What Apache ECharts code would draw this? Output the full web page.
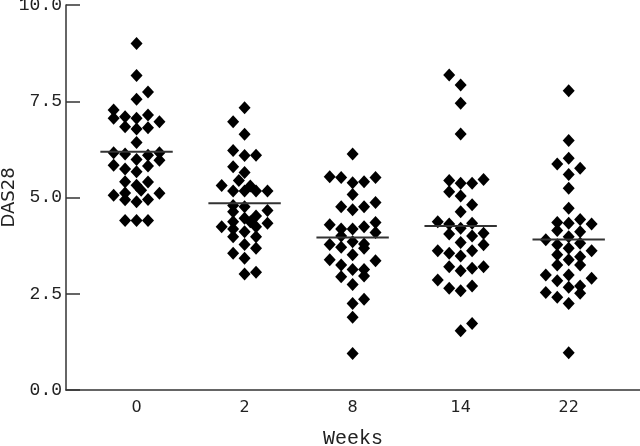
<!DOCTYPE html>
<html>
<head>
<meta charset="utf-8">
<script src="https://cdn.jsdelivr.net/npm/echarts@6/dist/echarts.min.js"></script>
<style>html,body{margin:0;padding:0;background:#fff;}#c{width:640px;height:446px;}</style>
</head>
<body>
<div id="c"></div>
<script>
const weeks = ['0', '2', '8', '14', '22'];
const yTicks = [0, 2.5, 5, 7.5, 10];
// DAS28 values per week, and jitter column (beeswarm column index) of each point
const das0 = [9.00,8.17,7.74,7.55,7.27,7.06,7.10,7.06,7.14,6.97,6.84,6.78,6.81,6.43,6.16,6.13,6.10,6.16,5.99,5.97,5.84,5.82,5.74,5.67,5.41,5.40,5.32,5.19,5.12,5.06,5.11,4.94,4.89,4.95,4.40,4.40,4.40];
const col0 = [0,0,1,0,-2,-2,-1,0,1,2,-1,0,1,0,-2,-1,1,2,0,2,-2,1,-1,0,-1,1,0,0.4,-1,-2,2,-1,0,1,-1,0,1];
const das2 = [7.33,6.97,6.64,6.22,6.09,6.10,5.80,5.65,5.44,5.31,5.17,5.17,5.30,5.17,5.17,4.79,4.76,4.63,4.66,4.46,4.52,4.37,4.24,4.37,4.33,4.18,4.11,4.24,3.98,3.98,3.78,3.68,3.55,3.42,3.01,3.06];
const col2 = [0,-1,0,-1,0,1,-1,0,-0.5,-2,-1,0,0.5,1,2,-1,0,-1,2,0,1,-1,-2,0.5,2,-1,0,1,-1,1,0,1,-1,0,0,1];
const das8 = [6.13,5.54,5.52,5.38,5.41,5.52,5.08,4.76,4.68,4.76,4.87,4.29,4.18,4.18,4.24,4.35,4.09,4.00,3.78,3.71,3.85,3.79,3.68,3.51,3.38,3.25,3.36,3.13,3.13,2.94,2.96,2.74,2.25,2.36,1.89,0.95];
const col8 = [0,-2,-1,0,1,2,0,-1,0,1,2,-2,-1,0,1,2,2,-1,-2,-1,0,1,1,0,-2,-1,2,0,1,-1,1,0,0,1,0,0];
const das14 = [8.18,7.92,7.45,6.65,5.44,5.37,5.37,5.47,5.15,5.04,4.81,4.63,4.37,4.31,4.20,4.33,4.05,4.00,4.07,3.83,3.77,3.62,3.55,3.48,3.62,3.20,3.10,3.16,3.20,2.86,2.64,2.58,2.70,1.54,1.73];
const col14 = [-1,0,0,0,-1,0,1,2,-1,0,1,0,-2,-1,0,1,-1,1,2,0,2,-2,-1,0,1,-1,0,1,2,-2,-1,0,1,0,1];
const das22 = [7.77,6.48,6.02,5.87,5.76,5.60,5.24,4.72,4.35,4.33,4.43,4.31,4.14,4.11,3.90,3.98,3.77,3.81,3.68,3.51,3.62,3.38,3.46,3.25,3.25,2.99,2.99,2.90,2.84,2.67,2.70,2.51,2.53,2.41,2.25,0.97];
const col22 = [0,0,0,-1,1,0,0,0,-1,0,1,2,-1,1,-2,0,-1,1,0,-1,2,0,1,-1,1,-2,0,2,-1,0,1,1,-2,-1,0,0];
const medians = [6.19, 4.85, 3.96, 4.26, 3.91];

const groups = [[das0, col0], [das2, col2], [das8, col8], [das14, col14], [das22, col22]];
const COL_W = 0.106;
const HALF = 0.335;

const pts = [];
groups.forEach(([vals, cols], gi) => {
  vals.forEach((v, k) => pts.push([gi + cols[k] * COL_W, v]));
});

const series = [{
  type: 'scatter',
  data: pts,
  symbol: 'diamond',
  symbolSize: [12, 13],
  itemStyle: { color: '#000', opacity: 1 },
  silent: true,
  z: 3
}];
medians.forEach((m, gi) => {
  series.push({
    type: 'line',
    data: [[gi - HALF, m], [gi + HALF, m]],
    symbol: 'none',
    lineStyle: { color: '#333', width: 2 },
    silent: true,
    z: 4
  });
});

const chart = echarts.init(document.getElementById('c'), null, { renderer: 'canvas' });
chart.setOption({
  animation: false,
  backgroundColor: '#fff',
  grid: { left: 66, right: 0, top: 5, bottom: 56, containLabel: false, outerBoundsMode: 'none' },
  xAxis: {
    type: 'value',
    min: -0.653,
    max: 4.66,
    name: 'Weeks',
    nameLocation: 'middle',
    nameGap: 39,
    nameMoveOverlap: false,
    nameTextStyle: { fontFamily: 'Liberation Mono', fontSize: 20, color: '#222' },
    axisLine: { show: true, onZero: false, lineStyle: { color: '#333', width: 1.5 } },
    axisTick: { show: false },
    splitLine: { show: false },
    axisLabel: {
      customValues: [0, 1, 2, 3, 4],
      formatter: v => weeks[Math.round(v)],
      margin: 10,
      fontFamily: 'DejaVu Sans',
      fontSize: 16,
      color: '#222'
    }
  },
  yAxis: {
    type: 'value',
    min: yTicks[0],
    max: yTicks[yTicks.length - 1],
    interval: 2.5,
    name: 'DAS28',
    nameLocation: 'middle',
    nameRotate: 90,
    nameGap: 48,
    nameMoveOverlap: false,
    nameTextStyle: { fontFamily: 'DejaVu Sans', fontSize: 18, color: '#222' },
    axisLine: { show: true, onZero: false, lineStyle: { color: '#333', width: 1.5 } },
    axisTick: { show: true, inside: true, length: 14, lineStyle: { color: '#333', width: 1.5 } },
    splitLine: { show: false },
    axisLabel: {
      formatter: v => v.toFixed(1),
      margin: 4,
      fontFamily: 'Liberation Mono',
      fontSize: 18,
      color: '#222'
    }
  },
  series: series
});
</script>
</body>
</html>
